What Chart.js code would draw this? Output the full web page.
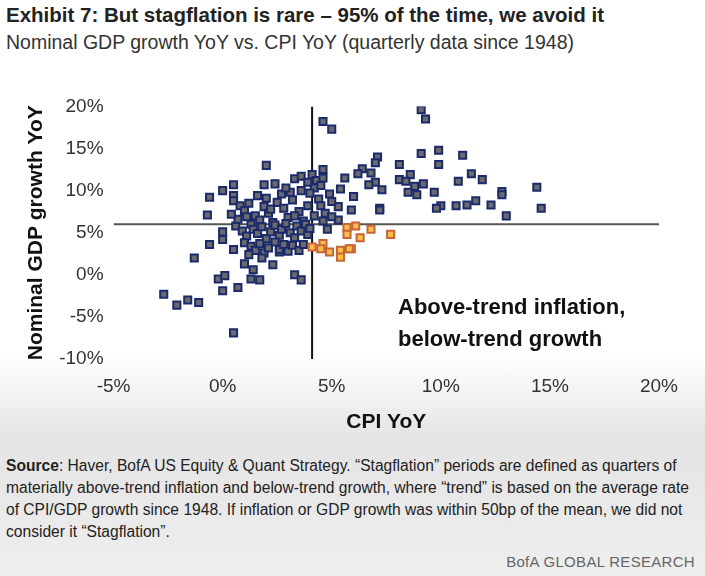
<!DOCTYPE html>
<html>
<head>
<meta charset="utf-8">
<script src="https://cdn.jsdelivr.net/npm/chart.js@4/dist/chart.umd.min.js"></script>
<style>
  html, body { margin: 0; padding: 0; }
  body {
    width: 705px; height: 576px; position: relative; overflow: hidden;
    font-family: "Liberation Sans", Arial, sans-serif; color: #222;
    background: linear-gradient(to bottom, #ffffff 0%, #ffffff 62%, #e4e4e4 76%, #eeeeee 100%);
  }
  #title { position: absolute; left: 6px; top: 3px; font-size: 20.5px; font-weight: bold; }
  #subtitle { position: absolute; left: 6px; top: 31px; font-size: 19.5px; color: #333; }
  #wrap { position: absolute; left: 0; top: 93px; width: 690px; height: 346px; }
  .note { position: absolute; left: 398px; font-size: 22px; font-weight: bold; color: #111; }
  #source { position: absolute; left: 6px; top: 455px; width: 684px; font-size: 15.6px; line-height: 22px; color: #222; }
  #brand { position: absolute; right: 10px; bottom: 6px; font-size: 15px; color: #666; letter-spacing: 0.3px; }
</style>
</head>
<body>
<div id="title">Exhibit 7: But stagflation is rare – 95% of the time, we avoid it</div>
<div id="subtitle">Nominal GDP growth YoY vs. CPI YoY (quarterly data since 1948)</div>
<div id="wrap"><canvas id="c"></canvas></div>
<div class="note" style="top:294px">Above-trend inflation,</div>
<div class="note" style="top:326px">below-trend growth</div>
<div id="source"><b>Source</b>: Haver, BofA US Equity &amp; Quant Strategy. “Stagflation” periods are defined as quarters of materially above-trend inflation and below-trend growth, where “trend” is based on the average rate of CPI/GDP growth since 1948. If inflation or GDP growth was within 50bp of the mean, we did not consider it “Stagflation”.</div>
<div id="brand">BofA GLOBAL RESEARCH</div>
<script>
// CPI YoY (x) and nominal GDP YoY (y), in %
const otherPoints = [
  [4.6,18.2],[5.0,17.3],[2.0,13.0],[0.5,10.7],[-0.6,9.2],[0.0,10.0],[0.5,9.4],[-0.7,7.1],
  [1.9,10.7],[2.4,10.8],[3.3,11.4],[3.6,11.7],[4.1,11.9],[4.6,12.5],[2.7,9.6],
  [-0.6,3.6],[-1.3,2.0],[0.0,5.1],[0.0,4.2],[0.5,3.0],[1.0,1.3],[1.4,0.6],[1.7,-0.6],
  [1.3,-0.5],[-0.2,-0.5],[0.1,-0.1],[0.0,-1.9],[0.7,-1.5],[-2.7,-2.3],[-2.1,-3.6],
  [-1.6,-3.0],[-1.1,-3.3],[0.5,-6.9],[3.3,0.0],[3.6,-0.6],[2.3,1.2],[2.6,2.7],
  [9.1,19.6],[9.3,18.5],[9.1,14.4],[9.9,14.8],[9.9,13.1],[11.0,14.2],[7.1,14.0],[7.0,13.3],
  [8.1,13.1],[8.6,11.9],[8.1,11.3],[8.4,11.1],[8.8,10.5],[9.2,10.8],[8.5,9.8],[8.9,9.5],
  [9.7,9.8],[11.4,12.0],[11.9,11.3],[10.8,11.1],[12.8,9.9],[12.8,9.5],[14.4,10.4],
  [14.6,7.9],[13.0,7.0],[12.3,8.3],[11.6,8.8],[11.2,8.3],[10.7,8.2],[10.0,8.2],[9.8,7.9],
  [7.2,7.9],[7.3,10.1],[7.0,11.0],[6.7,10.7],[6.8,12.1],[6.4,12.6],[6.2,12.0],[5.6,11.5],
  [5.4,10.2],[6.0,9.3],[5.3,8.1],[5.9,7.7],[5.3,6.5],[7.2,7.7],
  [0.5,8.8],[0.8,8.2],[1.0,7.6],[1.2,8.5],[1.5,7.0],[1.7,6.5],[1.9,8.1],[2.1,7.3],[2.3,6.2],
  [2.5,8.6],[2.8,7.9],[3.0,6.8],[3.2,8.9],[3.5,7.5],[3.7,6.4],[3.9,8.2],[4.2,7.0],[4.4,9.0],
  [4.5,8.2],[4.7,7.3],[4.9,9.6],[4.2,10.3],[4.0,9.7],[3.6,10.0],[3.1,9.8],[2.9,10.3],
  [0.6,5.8],[0.9,5.2],[1.1,4.6],[1.3,6.0],[1.4,5.4],[1.6,4.9],[1.8,5.7],[2.0,4.3],[2.2,5.1],
  [2.4,5.9],[2.6,4.7],[2.7,5.4],[2.9,6.1],[3.1,5.0],[3.3,4.4],[3.4,5.8],[3.6,5.2],[3.8,6.0],
  [3.9,4.8],[4.0,5.5],[1.0,3.8],[1.3,3.4],[1.5,2.9],[1.7,3.7],[1.9,2.6],[2.1,3.2],[2.4,3.9],
  [2.6,3.0],[2.8,3.6],[3.0,2.8],[3.2,3.5],[3.5,2.9],[3.7,3.6],[1.2,2.4],[1.8,2.0],[0.7,6.6],
  [0.4,7.2],[2.0,9.1],[1.6,9.4],[3.3,7.0],[2.2,7.8],[1.1,6.9],[4.6,6.4],[4.8,5.4],[5.0,6.9],
  [4.3,11.2],[4.5,10.6],[3.9,11.0],[5.0,8.7],[4.6,11.5]
];
const stagPoints = [
  [4.1,3.3],[4.6,3.7],[4.5,3.1],[4.9,2.7],[5.4,2.9],[5.4,2.1],[5.9,3.1],[5.7,5.6],
  [6.1,5.8],[5.7,4.8],[6.3,4.4],[6.8,5.4],[7.7,4.8],[5.8,3.1]
];
const cpiMean = 4.1;
const gdpMean = 6.0;
const xTicks = [-5, 0, 5, 10, 15, 20];
const yTicks = [-10, -5, 0, 5, 10, 15, 20];

const toXY = arr => arr.map(p => ({ x: p[0], y: p[1] }));
const tickFont = { family: '"Liberation Sans", Arial, sans-serif', size: 19 };

new Chart(document.getElementById('c'), {
  type: 'scatter',
  data: {
    datasets: [
      { type: 'line', data: [{ x: xTicks[0], y: gdpMean }, { x: xTicks[xTicks.length - 1], y: gdpMean }],
        borderColor: '#555', borderWidth: 2, pointRadius: 0, order: 3 },
      { type: 'line', data: [{ x: cpiMean, y: yTicks[0] }, { x: cpiMean, y: yTicks[yTicks.length - 1] }],
        borderColor: '#111', borderWidth: 2, pointRadius: 0, order: 3 },
      { data: toXY(otherPoints), pointStyle: 'rect', pointRadius: 5, borderWidth: 2,
        backgroundColor: '#6b6b6b', borderColor: '#1a2a6c', order: 2 },
      { data: toXY(stagPoints), pointStyle: 'rect', pointRadius: 5, borderWidth: 2,
        backgroundColor: '#f7bf45', borderColor: '#c8643a', order: 1 }
    ]
  },
  options: {
    responsive: true, maintainAspectRatio: false, animation: false,
    layout: { padding: { left: 24, right: 31, top: 6 } },
    plugins: { legend: { display: false }, tooltip: { enabled: false } },
    scales: {
      x: {
        type: 'linear', min: -5, max: 20,
        afterBuildTicks: s => { s.ticks = xTicks.map(v => ({ value: v })); },
        afterFit: s => { s.paddingLeft = 0; },
        grid: { display: false }, border: { display: false },
        ticks: { font: tickFont, color: '#333', padding: 8, callback: v => v + '%' },
        title: { display: true, text: 'CPI YoY', color: '#111',
          font: { family: '"Liberation Sans", Arial, sans-serif', size: 21, weight: 'bold' } }
      },
      y: {
        min: -10, max: 20,
        afterBuildTicks: s => { s.ticks = yTicks.map(v => ({ value: v })); },
        afterFit: s => { s.width += 8; },
        grid: { display: false }, border: { display: false },
        ticks: { font: tickFont, color: '#333', padding: 2, callback: v => v + '%' },
        title: { display: true, text: 'Nominal GDP growth YoY', color: '#111', padding: 0,
          font: { family: '"Liberation Sans", Arial, sans-serif', size: 21, weight: 'bold' } }
      }
    }
  }
});
</script>
</body>
</html>
